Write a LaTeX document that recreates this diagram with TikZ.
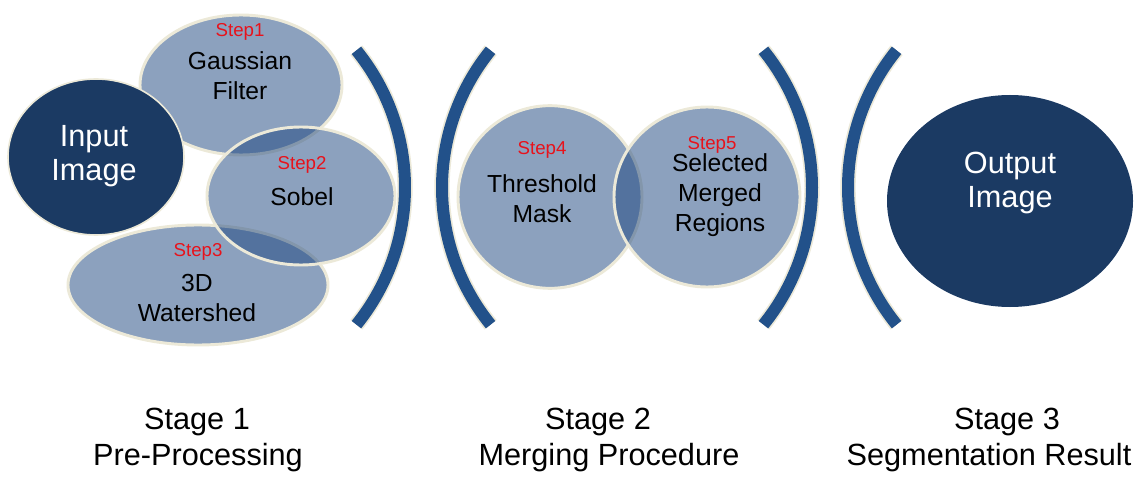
\documentclass[tikz,border=0pt]{standalone}
\usepackage{fontspec}
\setmainfont{Liberation Sans}
\usetikzlibrary{shapes.geometric}
\definecolor{navy}{HTML}{1B3A63}
\definecolor{midblue}{HTML}{1B457F}
\definecolor{bracketblue}{HTML}{22518A}
\definecolor{cream}{HTML}{ECE9D8}
\definecolor{stepred}{HTML}{E8121B}
\begin{document}
\begin{tikzpicture}[x=0.75pt,y=-0.75pt]
\tikzset{
  softshape/.style={ellipse, inner sep=0pt, fill=midblue, fill opacity=0.5, draw=cream, draw opacity=1, line width=2.2pt},
  darkshape/.style={ellipse, inner sep=0pt, fill=navy, draw=none},
  bracketback/.style={draw=cream, line width=11.5pt},
  bracketfront/.style={draw=bracketblue, line width=9pt},
  steplbl/.style={text=stepred, font=\fontsize{14}{16}\selectfont, inner sep=0pt},
  bodytxt/.style={text=black, font=\fontsize{18.5}{22.5}\selectfont, align=center, inner sep=0pt},
  bigtxt/.style={font=\fontsize{23}{27}\selectfont, align=center, inner sep=0pt},
}
\useasboundingbox (0,0) rectangle (1141,477);
\fill[white] (0,0) rectangle (1141,477);

% brackets
\foreach \cx/\a/\b in {187/-39/39, 660/141/219, 594/-39/39, 1066/141/219}{
  \draw[bracketback] ([shift={(\a:218)}]\cx,187.5) arc[start angle=\a, end angle=\b, radius=218];
  \draw[bracketfront] ([shift={(\a:218)}]\cx,187.5) arc[start angle=\a, end angle=\b, radius=218];
}

% stage 1 shapes
\node[softshape, minimum width=195pt, minimum height=90pt] (water) at (198,285) {};
\node[softshape, minimum width=151.5pt, minimum height=105pt] (gauss) at (241,85) {};
\node[softshape, minimum width=141pt, minimum height=103.5pt] (sobel) at (301,196) {};
\node[darkshape, draw=cream, line width=1.2pt, minimum width=132pt, minimum height=117pt] (in) at (96,157) {};

% stage 2 shapes
\node[softshape, minimum width=138pt, minimum height=137pt] (thr) at (550,197) {};
\node[softshape, minimum width=139.5pt, minimum height=135pt] (sel) at (707,197) {};

% stage 3 shape
\node[darkshape, minimum width=184.5pt, minimum height=159pt] (out) at (1010,201) {};

% texts
\node[bigtxt, text=white] (intxt) at (94,156) {Input\\[-1pt]Image};
\node[bigtxt, text=white] (outtxt) at (1010,183) {Output\\[-1pt]Image};

\node[steplbl] (s1) at (240,32) {Step1};
\node[bodytxt] (g1) at (240,76) {Gaussian\\Filter};
\node[steplbl] (s2) at (302,165) {Step2};
\node[bodytxt] (g2) at (302,197) {Sobel};
\node[steplbl] (s3) at (198,252) {Step3};
\node[bodytxt] (g3) at (197,298) {3D\\Watershed};
\node[steplbl] (s4) at (542,150) {Step4};
\node[bodytxt] (g4) at (542,199) {Threshold\\Mask};
\node[steplbl] (s5) at (712,145) {Step5};
\node[bodytxt] (g5) at (720,195) {Selected\\Merged\\Regions};

\node[bigtxt] (st1) at (197,422) {Stage 1};
\node[bigtxt] (pp1) at (198,458) {Pre-Processing};
\node[bigtxt] (st2) at (598,422) {Stage 2};
\node[bigtxt] (pp2) at (609,458) {Merging Procedure};
\node[bigtxt] (st3) at (1007,422) {Stage 3};
\node[bigtxt] (pp3) at (989,458) {Segmentation Result};
\end{tikzpicture}
\end{document}
